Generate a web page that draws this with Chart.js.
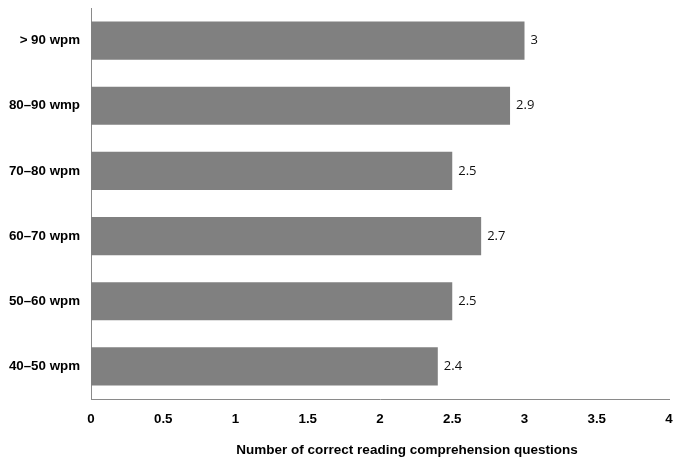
<!DOCTYPE html>
<html>
<head>
<meta charset="utf-8">
<script src="https://cdn.jsdelivr.net/npm/chart.js@4/dist/chart.umd.min.js"></script>
<style>
  html, body { margin: 0; padding: 0; background: #fff; }
  #wrap { width: 673px; height: 463px; }
</style>
</head>
<body>
<div id="wrap"><canvas id="c" width="673" height="463"></canvas></div>
<script>
// Reading speed groups (top to bottom) and mean correct answers
const categories = ['> 90 wpm', '80–90 wmp', '70–80 wpm', '60–70 wpm', '50–60 wpm', '40–50 wpm'];
const correctAnswers = [3, 2.9, 2.5, 2.7, 2.5, 2.4];
const xTicks = [0, 0.5, 1, 1.5, 2, 2.5, 3, 3.5, 4];
const axisTitle = 'Number of correct reading comprehension questions';

const AXIS_COLOR = '#8a8a8a';
const BAR_COLOR = '#808080';
const LABEL_FONT = 'Arial, "Liberation Sans", sans-serif';
const LABEL_SIZE = 13.33;

// Writes each bar's value just past its end
const valueLabels = {
  id: 'valueLabels',
  afterDatasetsDraw(chart) {
    const ctx = chart.ctx;
    const meta = chart.getDatasetMeta(0);
    ctx.save();
    ctx.font = '13px "Open Sans", sans-serif';
    ctx.fillStyle = '#111';
    ctx.textAlign = 'left';
    ctx.textBaseline = 'middle';
    meta.data.forEach((bar, i) => {
      ctx.fillText(String(correctAnswers[i]), bar.x + 6, bar.y);
    });
    ctx.restore();
  }
};

// Axis caption under the tick labels
const bottomCaption = {
  id: 'bottomCaption',
  afterDraw(chart) {
    const ctx = chart.ctx;
    const area = chart.chartArea;
    ctx.save();
    ctx.font = 'bold 13.5px ' + LABEL_FONT;
    ctx.fillStyle = '#000';
    ctx.textAlign = 'center';
    ctx.textBaseline = 'middle';
    ctx.fillText(axisTitle, (area.left + area.right) / 2 + 27, 450.5);
    ctx.restore();
  }
};

new Chart(document.getElementById('c'), {
  type: 'bar',
  data: {
    labels: categories,
    datasets: [{
      data: correctAnswers,
      backgroundColor: BAR_COLOR,
      borderWidth: 0,
      categoryPercentage: 1,
      barPercentage: 0.585
    }]
  },
  options: {
    indexAxis: 'y',
    responsive: false,
    animation: false,
    events: [],
    layout: { padding: { top: 8, right: 4, bottom: 0, left: 0 } },
    plugins: {
      legend: { display: false },
      tooltip: { enabled: false }
    },
    scales: {
      x: {
        type: 'linear',
        min: 0,
        max: 4,
        afterBuildTicks(scale) { scale.ticks = xTicks.map(v => ({ value: v })); },
        afterFit(scale) {
          scale.height = 64;
          scale.paddingLeft = 0;
          scale.paddingRight = 0;
        },
        grid: { display: false, drawTicks: false },
        border: { display: true, color: AXIS_COLOR, width: 1 },
        ticks: {
          padding: 12,
          color: '#000',
          font: { family: LABEL_FONT, size: LABEL_SIZE, weight: 'bold' },
          callback: (v) => String(v)
        }
      },
      y: {
        afterFit(scale) {
          scale.width = 91;
          scale.paddingTop = 0;
          scale.paddingBottom = 0;
        },
        grid: { display: false, drawTicks: false },
        border: { display: true, color: AXIS_COLOR, width: 1 },
        ticks: {
          padding: 11,
          color: '#000',
          font: { family: LABEL_FONT, size: LABEL_SIZE, weight: 'bold' }
        }
      }
    }
  },
  plugins: [valueLabels, bottomCaption]
});
</script>
</body>
</html>
